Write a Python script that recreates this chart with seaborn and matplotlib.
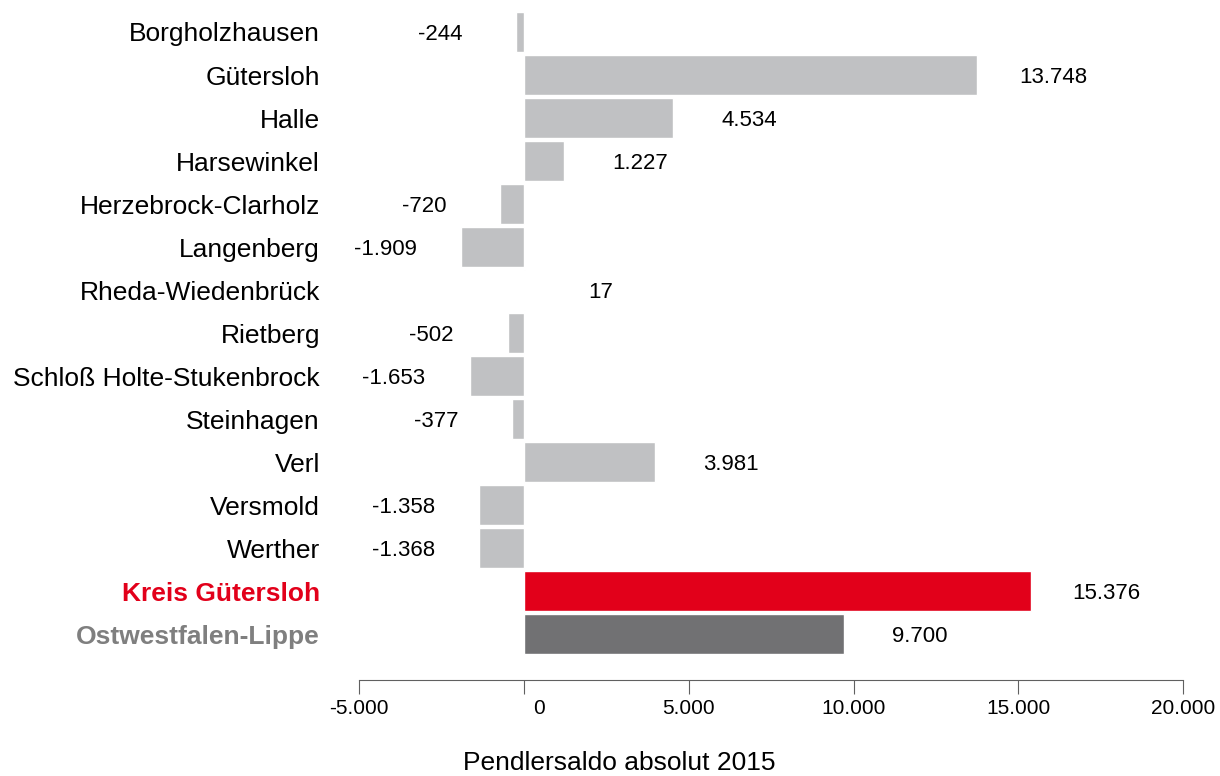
import matplotlib
matplotlib.use('Agg')
import matplotlib.pyplot as plt
import matplotlib.transforms as mtransforms
import seaborn as sns
import pandas as pd

# Datos del gráfico
orte = ['Borgholzhausen', 'Gütersloh', 'Halle', 'Harsewinkel', 'Herzebrock-Clarholz',
        'Langenberg', 'Rheda-Wiedenbrück', 'Rietberg', 'Schloß Holte-Stukenbrock',
        'Steinhagen', 'Verl', 'Versmold', 'Werther', 'Kreis Gütersloh', 'Ostwestfalen-Lippe']
saldo = [-244, 13748, 4534, 1227, -720, -1909, 17, -502, -1653, -377, 3981, -1358, -1368,
         15376, 9700]
tick_werte = [-5000, 0, 5000, 10000, 15000, 20000]
tick_texte = ['-5.000', '0', '5.000', '10.000', '15.000', '20.000']

grau = '#c0c1c3'
rot = '#e2001a'
dunkelgrau = '#717173'
farben = [grau] * 13 + [rot, dunkelgrau]

df = pd.DataFrame({'Ort': orte, 'Saldo': saldo})

sns.set_style('white')
plt.rcParams['font.family'] = ['Liberation Sans', 'DejaVu Sans']
plt.rcParams['text.color'] = 'black'
plt.rcParams['xtick.color'] = 'black'
plt.rcParams['ytick.color'] = 'black'

fig = plt.figure(figsize=(12.2, 7.76), dpi=100)
ax = fig.add_axes([0.2702, 0.1237, 0.6995, 0.8628])

sns.barplot(data=df, x='Saldo', y='Ort', hue='Ort', palette=farben, orient='h',
            width=0.93, legend=False, ax=ax, saturation=1)

ax.set_xlim(-5900, 20000)
ax.set_ylim(15.06, -0.5)

# Werte neben den Balken
for i, v in enumerate(saldo):
    text = f'{v:,}'.replace(',', '.')
    pos = v + 2300 if v >= 0 else v - 2300
    ax.text(pos, i, text, ha='center', va='center_baseline', fontsize=16, color='black')

# Achsen
for s in ['top', 'right', 'left']:
    ax.spines[s].set_visible(False)
ax.spines['bottom'].set_color('#606060')
ax.spines['bottom'].set_bounds(-5000, 20000)
ax.set_xticks(tick_werte, tick_texte, fontsize=15)
ax.tick_params(axis='x', length=10, color='#606060', labelcolor='black', pad=4, bottom=True)
ax.tick_params(axis='y', length=0, pad=7, labelsize=19, labelcolor='black')

# "0" etwas nach rechts versetzt wie im Original
lbl = ax.get_xticklabels()[1]
lbl.set_transform(lbl.get_transform() + mtransforms.ScaledTranslation(0.15, 0, fig.dpi_scale_trans))

for t in ax.get_yticklabels():
    if t.get_text() == 'Kreis Gütersloh':
        t.set_color(rot)
        t.set_fontweight('bold')
    elif t.get_text() == 'Ostwestfalen-Lippe':
        t.set_color('#7f7f7f')
        t.set_fontweight('bold')

ax.set_ylabel('')
ax.set_xlabel('')
fig.text(619 / 1220, 1 - 763 / 776, 'Pendlersaldo absolut 2015', fontsize=19,
         ha='center', va='center', color='black')

plt.savefig('out.png', dpi=100)
plt.close()
